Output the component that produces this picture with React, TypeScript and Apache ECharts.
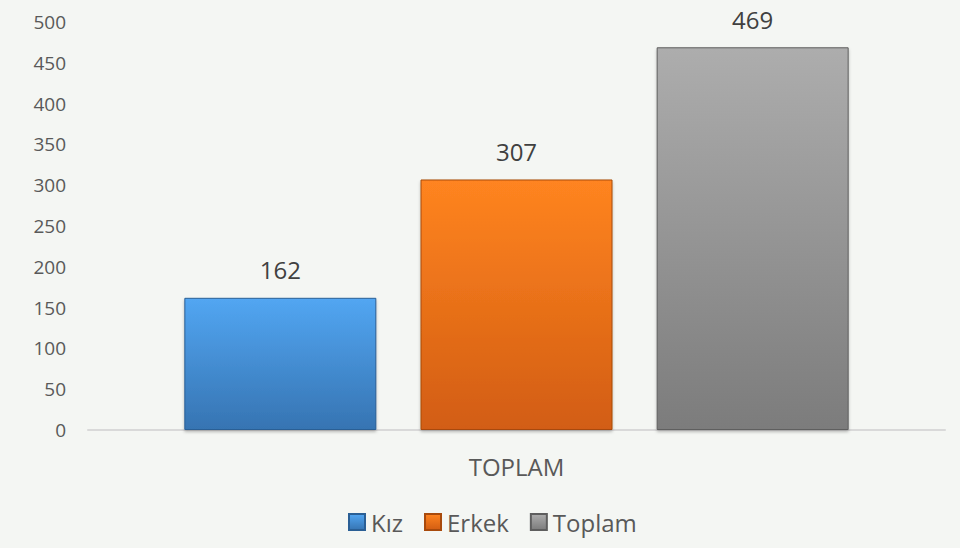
import React, { useEffect, useRef } from "react";
import * as echarts from "echarts";

const categories = ["TOPLAM"];
const seriesNames = ["Kız", "Erkek", "Toplam"];
const kizValues = [162];
const erkekValues = [307];
const toplamValues = [469];
const yTicks = { min: 0, max: 500, interval: 50 };

const grad = (top: string, bottom: string) =>
  new echarts.graphic.LinearGradient(0, 0, 0, 1, [
    { offset: 0, color: top },
    { offset: 1, color: bottom },
  ]);

const FONT = "'Open Sans', 'Noto Sans', sans-serif";

export default function App() {
  const ref = useRef<HTMLDivElement>(null);
  useEffect(() => {
    if (!ref.current) return;
    const chart = echarts.init(ref.current, undefined, { renderer: "svg" });
    const mk = (name: string, data: number[], top: string, bottom: string, border: string) => ({
      name,
      type: "bar",
      data,
      barWidth: 192,
      barGap: "23%",
      itemStyle: {
        color: grad(top, bottom),
        borderColor: border,
        borderWidth: 1,
        shadowColor: "rgba(0,0,0,0.25)",
        shadowBlur: 3,
        shadowOffsetY: 2,
      },
      label: {
        show: true,
        position: "top",
        distance: 16,
        fontSize: 24,
        color: "#404040",
        fontFamily: FONT,
      },
    });
    chart.setOption({
      animation: false,
      backgroundColor: "#f4f6f3",
      grid: { left: 88, right: 15, top: 22, bottom: 118, containLabel: false },
      legend: {
        bottom: 9,
        left: 343,
        itemWidth: 16,
        itemHeight: 16,
        itemGap: 21,
        icon: "rect",
        textStyle: { fontSize: 24, color: "#595959", fontFamily: FONT, padding: [0, 0, 0, 1] },
        data: seriesNames,
      },
      xAxis: {
        type: "category",
        data: categories,
        axisLine: { lineStyle: { color: "#d9d9d9", width: 2 } },
        axisTick: { show: false },
        axisLabel: { fontSize: 24, color: "#595959", margin: 24, fontFamily: FONT },
      },
      yAxis: {
        type: "value",
        min: yTicks.min,
        max: yTicks.max,
        interval: yTicks.interval,
        splitLine: { show: false },
        axisLine: { show: false },
        axisTick: { show: false },
        axisLabel: { fontSize: 19, color: "#595959", margin: 22, fontFamily: FONT },
      },
      series: [
        mk(seriesNames[0], kizValues, "#52a6f2", "#3674b2", "#2a5f95"),
        mk(seriesNames[1], erkekValues, "#ff8420", "#d25d12", "#a84a0c"),
        mk(seriesNames[2], toplamValues, "#adadad", "#7c7c7c", "#5e5e5e"),
      ],
    });
    return () => chart.dispose();
  }, []);
  return (
    <div
      ref={ref}
      style={{ position: "fixed", left: 0, top: 0, width: 960, height: 548 }}
    />
  );
}
